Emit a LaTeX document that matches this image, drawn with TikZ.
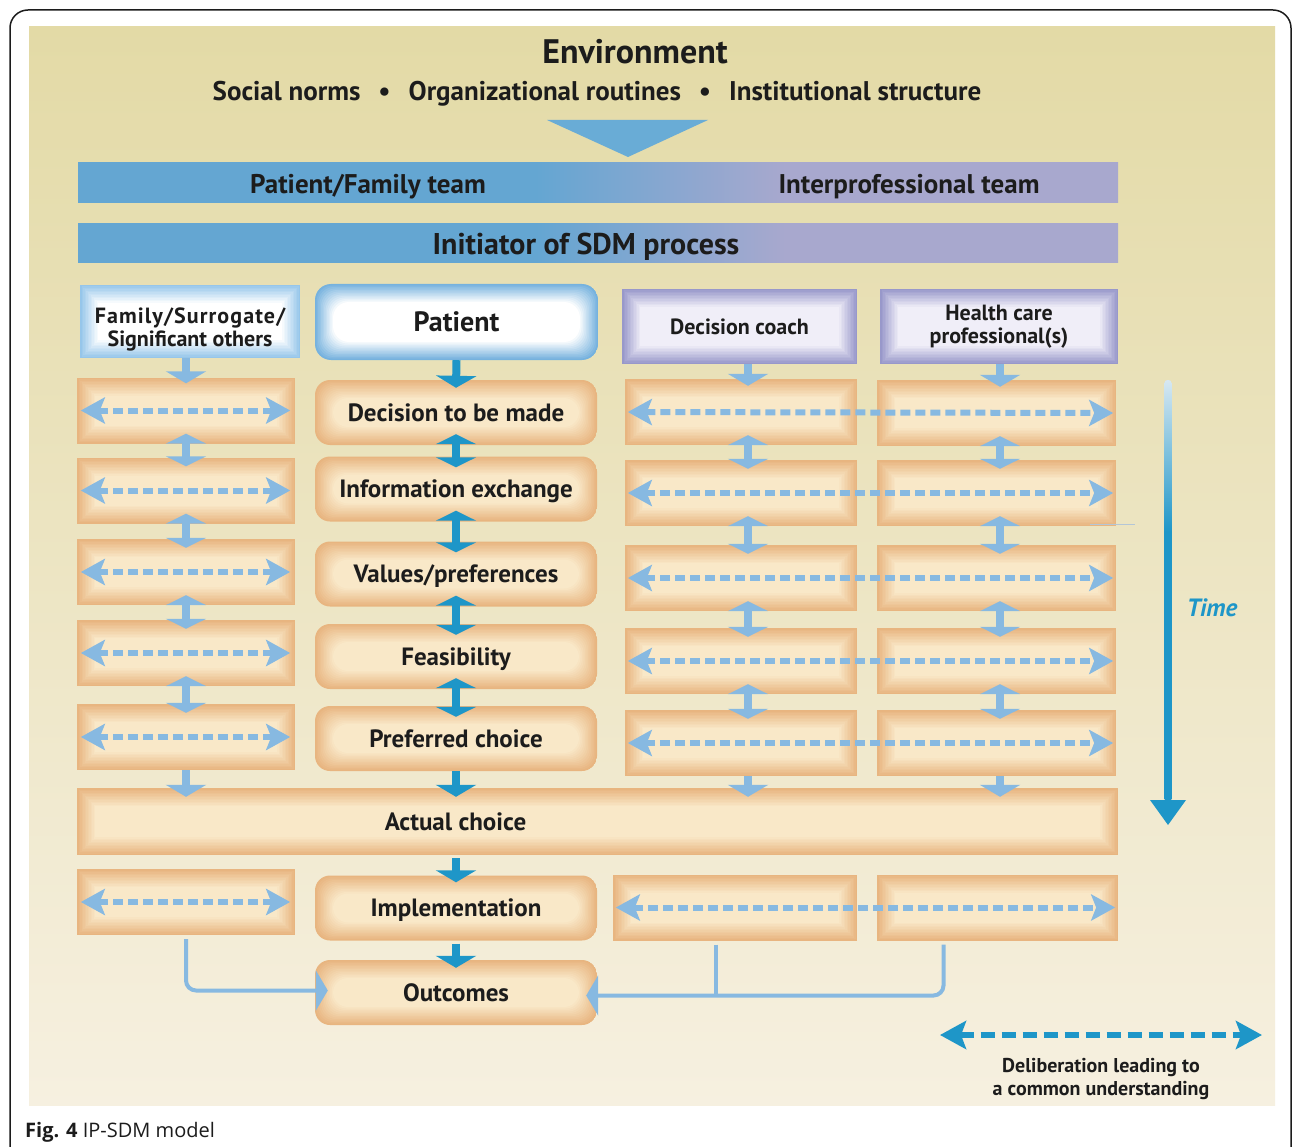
\documentclass[tikz,border=0pt]{standalone}
\usepackage{fontspec}
\setmainfont{PT Sans}
\newfontfamily\capfont{Open Sans}
\newfontfamily\widefont[LetterSpace=5.0]{PT Sans}
\usetikzlibrary{arrows.meta,positioning}

% Colours of the model
\definecolor{bgtop}{RGB}{227,218,166}
\definecolor{bgbot}{RGB}{246,240,224}
\definecolor{barblue}{RGB}{100,166,210}
\definecolor{barlav}{RGB}{168,168,206}
\definecolor{boxedge}{RGB}{232,181,128}
\definecolor{boxmid}{RGB}{249,232,200}
\definecolor{famedge}{RGB}{150,198,234}
\definecolor{patedge}{RGB}{118,178,222}
\definecolor{lavedge}{RGB}{152,152,202}
\definecolor{lavmid}{RGB}{240,238,248}
\definecolor{lightarr}{RGB}{135,185,225}
\definecolor{darkarr}{RGB}{30,150,200}
\definecolor{timetop}{RGB}{215,232,242}
\definecolor{tricol}{RGB}{105,172,214}
\definecolor{inkblack}{RGB}{28,28,28}
\definecolor{stray}{RGB}{180,198,215}

\pgfdeclarehorizontalshading{teambar}{100bp}{color(0bp)=(barblue); color(47bp)=(barblue); color(59bp)=(barlav); color(100bp)=(barlav)}
\pgfdeclareverticalshading{timebar}{100bp}{color(0bp)=(darkarr); color(57bp)=(darkarr); color(75bp)=(timetop); color(100bp)=(timetop)}

\newcommand\steptext{\fontsize{25}{28}\selectfont\bfseries\color{inkblack}}
\newcommand\headtext{\fontsize{22}{23}\selectfont\bfseries\color{inkblack}}
\newcommand\bartext{\fontsize{27}{30}\selectfont\bfseries\color{inkblack}}

\tikzset{
  glow/.style n args={3}{path picture={%
      \foreach \k in {0,...,12}{%
        \pgfmathsetmacro{\pct}{\k*100/12}%
        \fill[#2!\pct!#1, rounded corners=#3]
          ([shift={(\k*1.5pt,\k*1.5pt)}]path picture bounding box.south west) rectangle
          ([shift={(-\k*1.5pt,-\k*1.5pt)}]path picture bounding box.north east);
      }}},
  sidebox/.style={minimum width=#1, minimum height=66, inner sep=0pt, glow={boxedge}{boxmid}{0pt}},
  stepbox/.style={minimum width=282, minimum height=65, inner sep=0pt, rounded corners=15pt,
    glow={boxedge}{boxmid}{15pt}, font=\steptext, text height=17.5pt, text depth=0pt},
  sidedown/.style={draw=lightarr, line width=8pt, -{Triangle[width=40pt,length=12pt]}},
  sidedbl/.style={draw=lightarr, line width=8pt, {Triangle[width=40pt,length=10pt]}-{Triangle[width=40pt,length=10pt]}},
  maindown/.style={draw=darkarr, line width=8pt, -{Triangle[width=40pt,length=12pt]}},
  maindbl/.style={draw=darkarr, line width=8pt, {Triangle[width=40pt,length=10pt]}-{Triangle[width=40pt,length=10pt]}},
  talk/.style={draw=lightarr, line width=6pt, dash pattern=on 10pt off 5pt,
    {Stealth[length=24pt,width=26pt,inset=5pt]}-{Stealth[length=24pt,width=26pt,inset=5pt]}},
  talkdark/.style={draw=darkarr, line width=6pt, dash pattern=on 14pt off 7pt,
    {Stealth[length=26pt,width=28pt,inset=5pt]}-{Stealth[length=26pt,width=28pt,inset=5pt]}},
  feed/.style={draw=lightarr, line width=4pt, rounded corners=10pt},
  feedtip/.style={-{Triangle[width=40pt,length=12pt]}},
}

\begin{document}
\begin{tikzpicture}[x=1pt,y=-1pt]
  \useasboundingbox (0,0) rectangle (1292,1147);
  \fill[white] (0,0) rectangle (1292,1147);

  % Frame and background
  \draw[line width=1.5pt, color=inkblack, rounded corners=18pt] (10,1180) -- (10,10) -- (1291,10) -- (1291,1180);
  \shade[top color=bgtop, bottom color=bgbot] (29,27) rectangle (1275,1105);
  \node[anchor=base west, inner sep=0pt, font=\capfont\fontsize{20}{24}\selectfont, color=inkblack] (caption) at (25,1137)
    {\textbf{Fig. 4} IP-SDM model};

  % Environment
  \node[anchor=base, font=\fontsize{34}{40}\selectfont\bfseries, color=inkblack] (env) at (635,64) {Environment};
  \node[anchor=base, font=\fontsize{27}{30}\selectfont\bfseries, color=inkblack] (forces) at (597,101)
    {Social norms\hspace{18pt}\textbullet\hspace{18pt}Organizational routines\hspace{18pt}\textbullet\hspace{18pt}Institutional structure};
  \fill[tricol] (547,120) -- (708,120) -- (628,157) -- cycle;

  % Team bars
  \node[shading=teambar, minimum width=1040, minimum height=40, inner sep=0pt] (team) at (598,183) {};
  \node[anchor=base, font=\bartext] (pft) at (368,194) {Patient/Family team};
  \node[anchor=base, font=\bartext] (ipt) at (909,194) {Interprofessional team};
  \node[shading=teambar, minimum width=1040, minimum height=39, inner sep=0pt] (init) at (598,243.5) {};
  \node[anchor=base, font=\fontsize{30}{32}\selectfont\bfseries\color{inkblack}] (initlabel) at (586,255) {Initiator of SDM process};

  % Actors
  \node[minimum width=220, minimum height=73, inner sep=0pt, glow={famedge}{white}{0pt}, align=center, font=\headtext,
    text height=55pt, text depth=5pt] (fam) at (190,321.5)
    {{\widefont Family/Surrogate/}\\Significant others};
  \node[minimum width=283, minimum height=76, inner sep=0pt, rounded corners=16pt, glow={patedge}{white}{16pt},
    font=\fontsize{28}{30}\selectfont\bfseries\color{inkblack}] (pat) at (456.5,322) {Patient};
  \node[minimum width=235, minimum height=75, inner sep=0pt, glow={lavedge}{lavmid}{0pt}, font=\headtext] (coach) at (739.5,326.5) {Decision coach};
  \node[minimum width=238, minimum height=75, inner sep=0pt, glow={lavedge}{lavmid}{0pt}, align=center, font=\headtext] (hcp) at (999,326.5)
    {Health care\\professional(s)};

  % Steps of the patient
  \node[stepbox] (d1) at (456,412.5) {Decision to be made};
  \node[stepbox] (d2) at (456,489) {Information exchange};
  \node[stepbox] (d3) at (456,574) {Values/preferences};
  \node[stepbox] (d4) at (456,656.5) {Feasibility};
  \node[stepbox] (d5) at (456,738.5) {Preferred choice};
  \node[sidebox=1041, minimum height=67, font=\steptext, text height=17.5pt, text depth=0pt] (actual) at (597.5,821.5)
    {\hspace*{-284pt}Actual choice};
  \node[stepbox] (impl) at (456,908) {Implementation};
  \node[stepbox] (out) at (456,992.5) {Outcomes};

  % Family column
  \node[sidebox=218] (f1) at (186,410.5) {};
  \node[sidebox=218] (f2) at (186,490.5) {};
  \node[sidebox=218] (f3) at (186,572) {};
  \node[sidebox=218] (f4) at (186,653) {};
  \node[sidebox=218] (f5) at (186,737) {};
  \node[sidebox=218] (f7) at (186,902) {};

  % Decision coach column
  \node[sidebox=232] (c1) at (741,412) {};
  \node[sidebox=232] (c2) at (741,493) {};
  \node[sidebox=232] (c3) at (741,578) {};
  \node[sidebox=232] (c4) at (741,661) {};
  \node[sidebox=232] (c5) at (741,743) {};
  \node[sidebox=244] (c7) at (735,907.5) {};

  % Health care professional column
  \node[sidebox=239] (h1) at (996.5,413) {};
  \node[sidebox=239] (h2) at (996.5,493) {};
  \node[sidebox=239] (h3) at (996.5,578) {};
  \node[sidebox=239] (h4) at (996.5,661) {};
  \node[sidebox=239] (h5) at (996.5,743) {};
  \node[sidebox=241] (h7) at (997.5,907.5) {};

  % Actors into the first step
  \draw[sidedown] ([xshift=-4pt]fam.south) -- ([yshift=-6pt]f1.north);
  \draw[maindown] (pat.south) -- ([yshift=-8pt]d1.north);
  \draw[sidedown] ([xshift=8.5pt]coach.south) -- ([xshift=7pt,yshift=-7pt]c1.north);
  \draw[sidedown] ([xshift=1pt]hcp.south) -- ([xshift=3.5pt,yshift=-7pt]h1.north);

  % Back and forth between steps
  \draw[sidedbl] ([yshift=10pt]f1.south) -- ([yshift=-9pt]f2.north);
  \draw[sidedbl] ([yshift=10pt]f2.south) -- ([yshift=-9pt]f3.north);
  \draw[sidedbl] ([yshift=10pt]f3.south) -- ([yshift=-9pt]f4.north);
  \draw[sidedbl] ([yshift=10pt]f4.south) -- ([yshift=-9pt]f5.north);
  \draw[maindbl] ([yshift=11pt]d1.south) -- ([yshift=-11pt]d2.north);
  \draw[maindbl] ([yshift=11pt]d2.south) -- ([yshift=-11pt]d3.north);
  \draw[maindbl] ([yshift=11pt]d3.south) -- ([yshift=-11pt]d4.north);
  \draw[maindbl] ([yshift=11pt]d4.south) -- ([yshift=-11pt]d5.north);
  \draw[sidedbl] ([xshift=7pt,yshift=10pt]c1.south) -- ([xshift=7pt,yshift=-9pt]c2.north);
  \draw[sidedbl] ([xshift=7pt,yshift=10pt]c2.south) -- ([xshift=7pt,yshift=-9pt]c3.north);
  \draw[sidedbl] ([xshift=7pt,yshift=10pt]c3.south) -- ([xshift=7pt,yshift=-9pt]c4.north);
  \draw[sidedbl] ([xshift=7pt,yshift=10pt]c4.south) -- ([xshift=7pt,yshift=-9pt]c5.north);
  \draw[sidedbl] ([xshift=3.5pt,yshift=10pt]h1.south) -- ([xshift=3.5pt,yshift=-9pt]h2.north);
  \draw[sidedbl] ([xshift=3.5pt,yshift=10pt]h2.south) -- ([xshift=3.5pt,yshift=-9pt]h3.north);
  \draw[sidedbl] ([xshift=3.5pt,yshift=10pt]h3.south) -- ([xshift=3.5pt,yshift=-9pt]h4.north);
  \draw[sidedbl] ([xshift=3.5pt,yshift=10pt]h4.south) -- ([xshift=3.5pt,yshift=-9pt]h5.north);

  % Into the actual choice
  \draw[sidedown] (f5.south) -- ([yshift=-9pt]f5.south |- actual.north);
  \draw[maindown] (d5.south) -- ([yshift=-9pt]d5.south |- actual.north);
  \draw[sidedown] ([xshift=7pt]c5.south) -- ([xshift=7pt,yshift=-9pt]c5.south |- actual.north);
  \draw[sidedown] ([xshift=3.5pt]h5.south) -- ([xshift=3.5pt,yshift=-9pt]h5.south |- actual.north);
  \draw[maindown] ([yshift=-3pt]actual.south -| impl.north) -- ([yshift=-7pt]impl.north);
  \draw[maindown] ([yshift=-3pt]impl.south) -- ([yshift=-8pt]out.north);

  % Deliberation
  \draw[talk] ([xshift=4pt]f1.west) -- ([xshift=-5pt]f1.east);
  \draw[talk] ([xshift=4pt]f2.west) -- ([xshift=-5pt]f2.east);
  \draw[talk] ([xshift=4pt]f3.west) -- ([xshift=-5pt]f3.east);
  \draw[talk] ([xshift=4pt]f4.west) -- ([xshift=-5pt]f4.east);
  \draw[talk] ([xshift=4pt]f5.west) -- ([xshift=-5pt]f5.east);
  \draw[talk] ([xshift=4pt]f7.west) -- ([xshift=-5pt]f7.east);
  \draw[talk] ([xshift=3pt]c1.west) -- ([xshift=-3pt]h1.east);
  \draw[talk] ([xshift=3pt]c2.west) -- ([xshift=-3pt]h2.east);
  \draw[talk] ([xshift=3pt]c3.west) -- ([xshift=-3pt]h3.east);
  \draw[talk] ([xshift=3pt]c4.west) -- ([xshift=-3pt]h4.east);
  \draw[talk] ([xshift=3pt]c5.west) -- ([xshift=-3pt]h5.east);
  \draw[talk] ([xshift=3pt]c7.west) -- ([xshift=-3pt]h7.east);

  % Towards the outcomes
  \coordinate (cdrop) at ([xshift=-19pt,yshift=-4pt]c7.south);
  \coordinate (hdrop) at ([xshift=-54pt,yshift=-4pt]h7.south);
  \draw[feed, feedtip] ([yshift=-4pt]f7.south) |- ([xshift=13pt,yshift=2pt]out.west);
  \draw[feed, feedtip] (hdrop) |- ([xshift=-11pt,yshift=-3pt]out.east);
  \draw[feed] (cdrop) -- ([yshift=-3pt]cdrop |- out.east);

  % Time
  \shade[shading=timebar, rounded corners=3pt] (1164.5,380) rectangle (1171.5,802);
  \fill[darkarr] (1150,800) -- (1186,800) -- (1168,825) -- cycle;
  \node[anchor=base, font=\fontsize{25}{28}\selectfont\bfseries\itshape, color=darkarr] (time) at (1212,616) {Time};
  \draw[stray, line width=1pt] (1090,524) -- (1135,524);

  % Legend
  \coordinate (legl) at (940,1035);
  \coordinate (legr) at (1262,1035);
  \draw[talkdark] (legl) -- (legr);
  \node[align=center, font=\fontsize{20}{23}\selectfont\bfseries\color{inkblack}] (legtext) at (1101,1079)
    {Deliberation leading to\\a common understanding};
\end{tikzpicture}
\end{document}
